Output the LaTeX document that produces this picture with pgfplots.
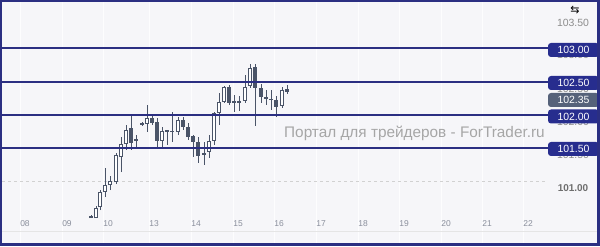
\documentclass[border=0pt]{standalone}
\usepackage{fontspec}
\setmainfont{Liberation Sans}
\newfontfamily\dejavu{DejaVu Sans}
\usepackage{pgfplots}
\pgfplotsset{compat=1.18}
\usepackage{pgfplotstable}

\definecolor{bg}{HTML}{F6F6F9}
\definecolor{gridc}{HTML}{FDFDFE}
\definecolor{navy}{HTML}{2B2F82}
\definecolor{boxnavy}{HTML}{272D8E}
\definecolor{candle}{HTML}{4A5468}
\definecolor{curbox}{HTML}{56627A}
\definecolor{daygray}{HTML}{8A8F9C}
\definecolor{wm}{HTML}{A6A6A6}
\definecolor{lblgray}{HTML}{8C8C8C}
\definecolor{lbldark}{HTML}{6E6E6E}

\pgfplotstableread{
x o h l c
91 100.455 100.500 100.455 100.485
96 100.455 100.635 100.455 100.605
100 100.620 100.875 100.575 100.845
105 100.845 101.205 100.770 100.950
110 100.950 101.085 100.875 101.010
116 100.995 101.430 100.965 101.400
121 101.370 101.670 101.145 101.565
126 101.565 101.850 101.475 101.775
131 101.805 102.000 101.475 101.580
136 101.610 101.700 101.505 101.640
142 101.850 101.895 101.835 101.880
147 101.865 102.150 101.745 101.955
152 101.955 102.000 101.850 101.880
157 101.895 101.955 101.520 101.610
162 101.610 101.820 101.520 101.760
167 101.745 101.775 101.550 101.775
172 101.745 102.045 101.595 101.760
178 101.745 101.970 101.700 101.925
183 101.925 101.970 101.775 101.820
188 101.820 101.880 101.625 101.670
193 101.685 101.700 101.370 101.595
198 101.595 101.670 101.280 101.385
204 101.400 101.595 101.250 101.430
209 101.445 101.700 101.355 101.610
214 101.610 102.045 101.550 102.030
219 102.030 102.330 101.850 102.195
224 102.195 102.435 102.180 102.420
229 102.420 102.450 102.150 102.180
234 102.180 102.300 102.045 102.210
239 102.210 102.285 102.060 102.180
245 102.210 102.600 102.180 102.420
250 102.435 102.765 102.405 102.705
255 102.720 102.765 101.835 102.405
261 102.405 102.465 102.180 102.270
266 102.270 102.375 102.150 102.240
271 102.240 102.375 102.075 102.225
276 102.225 102.285 101.970 102.120
282 102.135 102.420 102.105 102.375
287 102.390 102.450 102.315 102.350
}\candles

\begin{document}
\begin{tikzpicture}
\begin{axis}[
  scale only axis, width=600bp, height=246bp,
  xmin=0, xmax=600, ymin=100.035, ymax=103.725,
  axis line style={draw=none},
  ytick=\empty,
  xtick={20,62,103,149,191,233,274,316,358,399,441,482,523},
  xticklabels={}, major tick length=0pt,
  xmajorgrids=true, grid style={draw=gridc, line width=1bp},
  axis background/.style={fill=bg},
]
% dashed 101.00 line and bottom separator
\draw[draw=black!18, line width=0.8bp, dash pattern=on 3bp off 3bp] (axis cs:2,101.0) -- (axis cs:548,101.0);
\draw[draw=black!10, line width=1bp] (axis cs:2,100.26) -- (axis cs:597,100.26);

% watermark
\node[text=wm, font=\fontsize{15.4}{17}\selectfont, anchor=west, inner sep=0pt] at (axis cs:284,101.73) {Портал для трейдеров - ForTrader.ru};

% wicks
\addplot[draw=none, mark=none, forget plot,
  error bars/.cd, y dir=plus, y explicit, error mark=none,
  error bar style={line width=1bp, draw=candle}]
  table[x=x, y=l, y error plus expr={\thisrow{h}-\thisrow{l}}] {\candles};
% bodies (outline / dark fill)
\addplot[draw=none, mark=none, forget plot,
  error bars/.cd, y dir=plus, y explicit, error mark=none,
  error bar style={line width=4bp, draw=candle}]
  table[x=x, y expr={min(\thisrow{o},\thisrow{c})},
        y error plus expr={max(abs(\thisrow{c}-\thisrow{o}),0.015)}] {\candles};
% white interior of rising candles
\addplot[draw=none, mark=none, forget plot,
  error bars/.cd, y dir=plus, y explicit, error mark=none,
  error bar style={line width=2bp, draw=white}]
  table[x=x, y expr={min(\thisrow{o},\thisrow{c})+0.015},
        y error plus expr={(\thisrow{c}>\thisrow{o}) ? max(\thisrow{c}-\thisrow{o}-0.03,0) : 0}] {\candles};

% horizontal levels
\draw[navy, line width=2bp] (axis cs:0,103.0) -- (axis cs:552,103.0);
\draw[navy, line width=2bp] (axis cs:0,102.5) -- (axis cs:552,102.5);
\draw[navy, line width=2bp] (axis cs:0,102.0) -- (axis cs:552,102.0);
\draw[navy, line width=2bp] (axis cs:0,101.5) -- (axis cs:552,101.5);

% price scale labels
\node[text=lblgray, font=\fontsize{10.5}{12}\selectfont] at (axis cs:573,103.38) {103.50};
\node[text=lblgray, font=\fontsize{10.5}{12}\selectfont] at (axis cs:573,102.895) {103.00};
\node[text=lblgray, font=\fontsize{10.5}{12}\selectfont] at (axis cs:573,102.395) {102.50};
\node[text=lblgray, font=\fontsize{10.5}{12}\selectfont] at (axis cs:573,101.895) {102.00};
\node[text=lblgray, font=\fontsize{10.5}{12}\selectfont] at (axis cs:573,101.395) {101.50};
\node[text=lbldark, font=\bfseries\fontsize{10}{12}\selectfont] at (axis cs:573,100.905) {101.00};

% level boxes
\node[fill=boxnavy, text=white, rounded corners=3bp, minimum width=51bp, minimum height=14bp, inner sep=0pt, font=\fontsize{10.5}{12}\selectfont] at (axis cs:573.5,102.975) {103.00};
\node[fill=boxnavy, text=white, rounded corners=3bp, minimum width=51bp, minimum height=14bp, inner sep=0pt, font=\fontsize{10.5}{12}\selectfont] at (axis cs:573.5,102.48) {102.50};
\node[fill=curbox, text=white, rounded corners=3bp, minimum width=51bp, minimum height=14bp, inner sep=0pt, font=\fontsize{10.5}{12}\selectfont] at (axis cs:573.5,102.225) {102.35};
\node[fill=boxnavy, text=white, rounded corners=3bp, minimum width=51bp, minimum height=14bp, inner sep=0pt, font=\fontsize{10.5}{12}\selectfont] at (axis cs:573.5,101.9775) {102.00};
\node[fill=boxnavy, text=white, rounded corners=3bp, minimum width=51bp, minimum height=14bp, inner sep=0pt, font=\fontsize{10.5}{12}\selectfont] at (axis cs:573.5,101.49) {101.50};

% icon
\node[font=\dejavu\fontsize{11}{11}\selectfont, text=black] at (axis cs:575,103.575) {⇆};

% day labels
\foreach \xx/\lab in {25/08,67/09,108/10,154/13,196/14,238/15,279/16,321/17,363/18,404/19,446/20,487/21,528/22}{
  \edef\temp{\noexpand\node[text=daygray, font=\noexpand\fontsize{8.5}{10}\noexpand\selectfont] at (axis cs:\xx,100.365) {\lab};}
  \temp
}

% frame
\fill[navy] (rel axis cs:0,0) rectangle (rel axis cs:0.0035,1);
\fill[navy] (rel axis cs:0,0.9919) rectangle (rel axis cs:1,1);
\fill[navy] (rel axis cs:0,0) rectangle (rel axis cs:1,0.0122);
\fill[navy] (rel axis cs:0.995,0) rectangle (rel axis cs:1,1);
\end{axis}
\pgfresetboundingbox
\path[use as bounding box] (current axis.south west) rectangle (current axis.north east);
\end{tikzpicture}
\end{document}
